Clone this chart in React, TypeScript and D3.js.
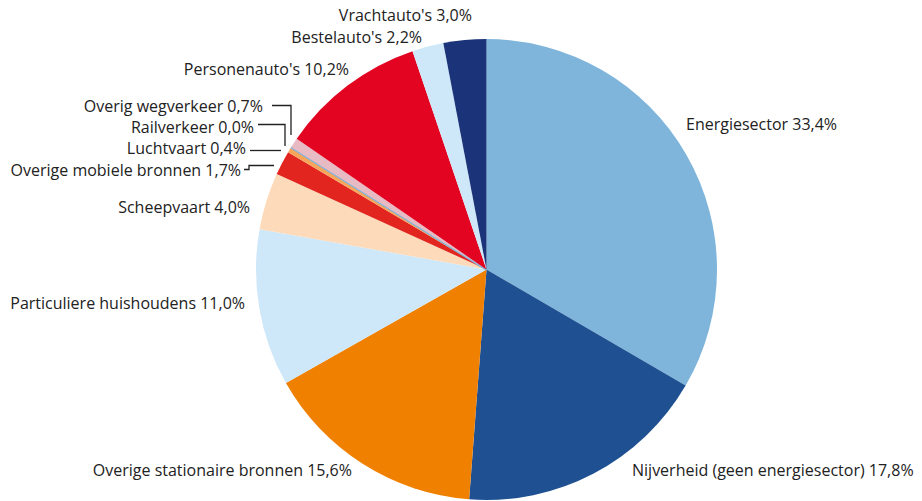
import React from "react";
import * as d3 from "d3";

const categories = [
  "Energiesector",
  "Nijverheid (geen energiesector)",
  "Overige stationaire bronnen",
  "Particuliere huishoudens",
  "Scheepvaart",
  "Overige mobiele bronnen",
  "Luchtvaart",
  "Railverkeer",
  "Overig wegverkeer",
  "Personenauto's",
  "Bestelauto's",
  "Vrachtauto's",
];
const values = [33.4, 17.8, 15.6, 11.0, 4.0, 1.7, 0.4, 0.0, 0.7, 10.2, 2.2, 3.0];
const colors = [
  "#7fb5db",
  "#1f5192",
  "#f08000",
  "#cfe8f9",
  "#fddbba",
  "#e2261f",
  "#f6a55a",
  "#7fb5db",
  "#e8bac4",
  "#e30421",
  "#cfe8f9",
  "#1b3378",
];

// label layout (x, y center, anchor)
const labelPos: [number, number, string][] = [
  [686, 124, "start"],
  [632, 470, "start"],
  [352, 470, "end"],
  [245, 303, "end"],
  [250, 207, "end"],
  [241, 170, "end"],
  [246, 148.5, "end"],
  [254, 127, "end"],
  [263, 106.5, "end"],
  [349, 69, "end"],
  [422, 37, "end"],
  [472, 15, "end"],
];
// leader polylines for small slices
const leaders: Record<number, [number, number][]> = {
  8: [[272, 105.5], [291, 105.5], [291, 135]],
  7: [[258, 124.5], [285, 124.5], [285, 146]],
  6: [[250, 150.5], [281, 150.5]],
  5: [[244, 169.5], [249, 169.5], [249, 165.5], [274, 165.5]],
};

const fmt = (v: number) => v.toFixed(1).replace(".", ",") + "%";

export default function App() {
  const W = 922, H = 501;
  const cx = 486.5, cy = 269.5, r = 230.5;
  const pie = d3.pie<number>().sort(null).value((d) => d)(values);
  const arc = d3.arc<d3.PieArcDatum<number>>().innerRadius(0).outerRadius(r);
  return (
    <svg
      width={W}
      height={H}
      style={{ position: "absolute", left: 0, top: 0, background: "#fff" }}
      fontFamily="'Open Sans', 'Noto Sans', sans-serif"
    >
      <g transform={`translate(${cx},${cy})`}>
        {pie.map((p, i) => (
          <path
            key={i}
            d={arc(p) || ""}
            fill={colors[i]}
            stroke={values[i] === 0 ? colors[i] : "none"}
            strokeWidth={values[i] === 0 ? 2.5 : 0}
          />
        ))}
      </g>
      {Object.entries(leaders).map(([k, pts]) => (
        <polyline
          key={k}
          points={pts.map((p) => p.join(",")).join(" ")}
          fill="none"
          stroke="#222"
          strokeWidth={1.3}
        />
      ))}
      {categories.map((c, i) => (
        <text
          key={c}
          x={labelPos[i][0]}
          y={labelPos[i][1]}
          dy="0.35em"
          textAnchor={labelPos[i][2] as any}
          fontSize={16}
          fill="#222"
        >
          {c + " " + fmt(values[i])}
        </text>
      ))}
    </svg>
  );
}
